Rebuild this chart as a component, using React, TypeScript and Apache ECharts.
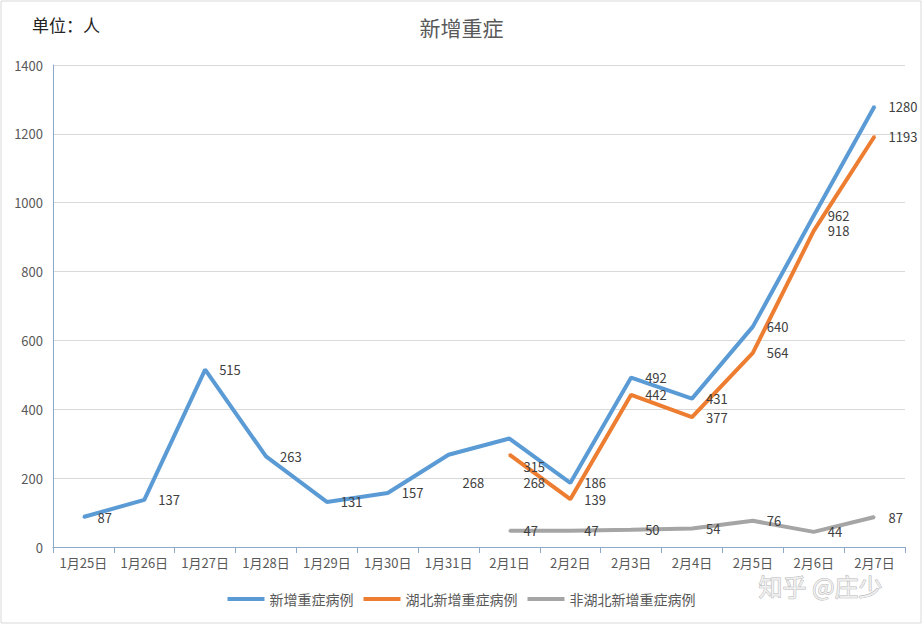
import React, { useEffect, useRef } from "react";
import * as echarts from "echarts";

const categories = ["1月25日", "1月26日", "1月27日", "1月28日", "1月29日", "1月30日", "1月31日", "2月1日", "2月2日", "2月3日", "2月4日", "2月5日", "2月6日", "2月7日"];
const totalSevere = [87, 137, 515, 263, 131, 157, 268, 315, 186, 492, 431, 640, 962, 1280];
const hubeiSevere = [null, null, null, null, null, null, null, 268, 139, 442, 377, 564, 918, 1193];
const otherSevere = [null, null, null, null, null, null, null, 47, 47, 50, 54, 76, 44, 87];
const shiftedLabels = { total: [6, 7], hubei: [7] };

const FONT = "'Noto Sans CJK SC', 'Noto Sans', sans-serif";

function toData(values: (number | null)[], shifted: number[]) {
  return values.map((v, i) =>
    shifted.includes(i) ? { value: v, label: { offset: [0, 28] } } : v
  );
}

export default function App() {
  const ref = useRef<HTMLDivElement>(null);
  useEffect(() => {
    document.body.style.margin = "0";
    const chart = echarts.init(ref.current!, null, { renderer: "svg" });
    const lineSeries = (name: string, color: string, data: any[]) => ({
      name,
      type: "line",
      data,
      symbol: "circle",
      symbolSize: 2,
      itemStyle: { color },
      lineStyle: { color, width: 4 },
      label: {
        show: true,
        position: "right",
        distance: 13,
        color: "#404040",
        fontSize: 13,
        fontFamily: FONT,
      },
      emphasis: { disabled: true },
    });
    chart.setOption({
      animation: false,
      backgroundColor: "#ffffff",
      title: {
        text: "新增重症",
        left: "center",
        top: 11,
        textStyle: { fontFamily: FONT, fontSize: 21, fontWeight: "normal", color: "#595959" },
      },
      graphic: [
        {
          type: "rect",
          shape: { x: 1, y: 1, width: 920, height: 622 },
          style: { fill: "none", stroke: "#d9d9d9", lineWidth: 1 },
        },
        {
          type: "text",
          left: 32,
          top: 16,
          style: { text: "单位：人", font: `17px ${FONT}`, fill: "#222222" },
        },
        {
          type: "text",
          left: 758,
          top: 573,
          style: {
            text: "知乎 @庄少",
            font: `24px ${FONT}`,
            fill: "#eeeeee",
            stroke: "#b8b8b8",
            lineWidth: 1,
          },
        },
      ],
      legend: {
        bottom: 14,
        left: "center",
        itemWidth: 37,
        itemHeight: 4,
        itemGap: 10,
        icon: "rect",
        textStyle: { fontFamily: FONT, fontSize: 14, color: "#595959" },
        data: ["新增重症病例", "湖北新增重症病例", "非湖北新增重症病例"],
      },
      grid: { left: 53, right: 18, top: 65, bottom: 78 },
      xAxis: {
        type: "category",
        data: categories,
        boundaryGap: true,
        axisLine: { lineStyle: { color: "#8ea9c8", width: 1 } },
        axisTick: { show: true, length: 6, lineStyle: { color: "#8ea9c8" } },
        axisLabel: { interval: 0, fontFamily: FONT, fontSize: 13, color: "#595959", margin: 9 },
      },
      yAxis: {
        type: "value",
        min: 0,
        max: 1400,
        interval: 200,
        axisLine: { show: true, lineStyle: { color: "#8ea9c8", width: 1 } },
        axisTick: { show: false },
        axisLabel: {
          fontFamily: FONT,
          fontSize: 13,
          color: "#595959",
          margin: 10,
          formatter: (v: number) => String(v),
        },
        splitLine: { lineStyle: { color: "#d9d9d9", width: 1 } },
      },
      series: [
        lineSeries("新增重症病例", "#5b9bd5", toData(totalSevere, shiftedLabels.total)),
        lineSeries("湖北新增重症病例", "#ed7d31", toData(hubeiSevere, shiftedLabels.hubei)),
        lineSeries("非湖北新增重症病例", "#a5a5a5", toData(otherSevere, [])),
      ],
    });
    return () => chart.dispose();
  }, []);
  return <div ref={ref} style={{ width: 923, height: 625 }} />;
}
